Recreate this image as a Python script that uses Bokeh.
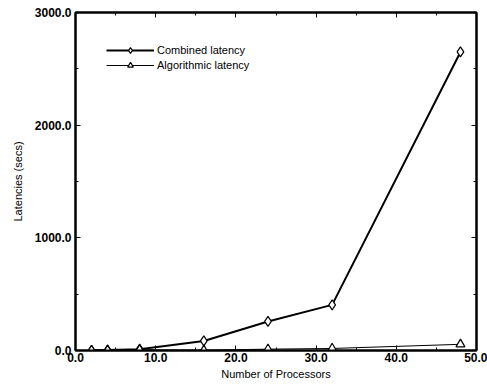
from bokeh.plotting import figure
from bokeh.models import Range1d, LinearAxis, PrintfTickFormatter, Legend, LegendItem, FixedTicker
from bokeh.embed import file_html
from bokeh.resources import INLINE

procs = [2, 4, 8, 16, 24, 32, 48]
combined = [2, 4, 12, 85, 258, 405, 2650]
algorithmic = [1, 2, 5, 2, 12, 18, 55]
x_ticks = [0, 10, 20, 30, 40, 50]
y_ticks = [0, 1000, 2000, 3000]

FONT = "Liberation Sans"

p = figure(width=487, height=385, output_backend="svg", toolbar_location=None,
           x_range=Range1d(0, 50), y_range=Range1d(0, 3000),
           min_border_left=75, min_border_right=11, min_border_top=12, min_border_bottom=35,
           x_axis_label="Number of Processors", y_axis_label="Latencies (secs)")

p.xgrid.visible = False
p.ygrid.visible = False
p.outline_line_color = "black"
p.outline_line_width = 2
p.background_fill_color = "white"
p.border_fill_color = "white"

def style_axis(ax, labels=True):
    ax.major_tick_in = 5
    ax.major_tick_out = 0
    ax.minor_tick_in = 3
    ax.minor_tick_out = 0
    ax.axis_line_color = "black"
    ax.axis_line_width = 2
    ax.major_tick_line_color = "black"
    ax.minor_tick_line_color = "black"
    ax.major_label_text_font = FONT
    ax.major_label_text_font_size = "12px"
    ax.major_label_text_font_style = "bold"
    ax.major_label_text_color = "black"
    ax.axis_label_text_font = FONT
    ax.axis_label_text_font_size = "11px"
    ax.axis_label_text_font_style = "normal"
    ax.axis_label_text_color = "black"
    ax.formatter = PrintfTickFormatter(format="%.1f")
    if not labels:
        ax.major_label_text_alpha = 0
        ax.major_label_text_font_size = "0px"
        ax.major_label_standoff = 0

p.xaxis.ticker = FixedTicker(ticks=x_ticks, minor_ticks=list(range(0, 51, 5)))
p.yaxis.ticker = FixedTicker(ticks=y_ticks, minor_ticks=list(range(0, 3001, 500)))
for ax in p.xaxis:
    style_axis(ax)
    ax.major_label_standoff = 2
    ax.axis_label_standoff = 3
for ax in p.yaxis:
    style_axis(ax)
    ax.major_label_standoff = 4
    ax.axis_label_standoff = 8

top = LinearAxis(ticker=FixedTicker(ticks=x_ticks, minor_ticks=list(range(0, 51, 5))))
style_axis(top, labels=False)
p.add_layout(top, "above")
right = LinearAxis(ticker=FixedTicker(ticks=y_ticks, minor_ticks=list(range(0, 3001, 500))))
style_axis(right, labels=False)
p.add_layout(right, "right")

l1 = p.line(procs, combined, line_color="black", line_width=2)
s1 = p.scatter(procs, combined, marker="diamond", size=10, fill_color="white",
               line_color="black", line_width=1.2)
l2 = p.line(procs, algorithmic, line_color="black", line_width=1)
s2 = p.scatter(procs, algorithmic, marker="triangle", size=9, fill_color="white",
               line_color="black", line_width=1.2)

legend = Legend(items=[LegendItem(label="Combined latency", renderers=[l1, s1]),
                       LegendItem(label="Algorithmic latency", renderers=[l2, s2])],
                location=(31, 278), border_line_alpha=0, background_fill_alpha=0,
                label_text_font=FONT, label_text_font_size="11px", label_text_color="black",
                glyph_width=48, glyph_height=14, label_height=14, spacing=1,
                padding=0, margin=0, label_standoff=3)
p.add_layout(legend)

open("out.html", "w").write(file_html(p, INLINE))
